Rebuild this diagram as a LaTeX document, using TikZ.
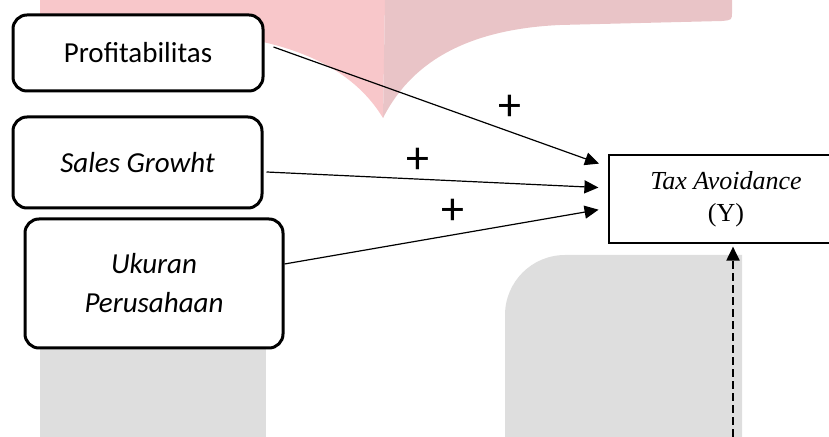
\documentclass[tikz,border=0pt]{standalone}
\usepackage{fontspec}
\setmainfont{Liberation Serif}
\newfontfamily\calibri{Carlito}
\usetikzlibrary{arrows.meta}

\definecolor{pinkkiri}{RGB}{248,199,202}
\definecolor{pinkkanan}{RGB}{233,196,199}
\definecolor{abu}{RGB}{222,222,222}

\tikzset{
  varbox/.style={draw,line width=1.5pt,rounded corners=7pt,fill=white,
    align=center,inner sep=0pt,font=\calibri\fontsize{14.5}{19.5}\selectfont},
  ybox/.style={draw,line width=0.6pt,fill=white,align=center,inner sep=0pt,
    minimum width=117pt,minimum height=44pt,font=\fontsize{13}{16}\selectfont},
  plus/.style={inner sep=0pt,font=\calibri\fontsize{23}{25}\selectfont},
  panah/.style={->,line width=0.6pt,shorten >=5pt}
}

\begin{document}
\begin{tikzpicture}[x=0.5pt,y=-0.5pt,>={Triangle[length=7pt,width=6.5pt]}]
    \useasboundingbox (0,0) rectangle (829,437);
    % watermark behind the model
    \fill[pinkkiri] (40,0) -- (385,0) -- (383,118)
      .. controls (360,80) and (320,55) .. (263,42) -- (40,15) -- cycle;
    \fill[pinkkanan] (385,0) -- (732,0) -- (732,12)
      .. controls (732,20) .. (722,21) -- (560,25)
      .. controls (450,30) and (405,75) .. (383,118) -- cycle;
    \fill[abu] (40,330) rectangle (266,437);
    \fill[abu] (505,437) [rounded corners=30pt] -- (505,255)
      [sharp corners] -- (742,255) -- (742,437) -- cycle;

    \newcommand\variabel[6]{
      \node[varbox,minimum width=#3,minimum height=#4] at (#1,#2) (#5) {#6};
    }
    \variabel{138}{53}{125pt}{38pt}{prof}{Profitabilitas};
    \variabel{137.5}{162.5}{124.5pt}{45.5pt}{sales}{\itshape Sales Growht};
    \variabel{154}{283.5}{129pt}{64.5pt}{ukuran}{\itshape Ukuran\\\itshape Perusahaan};
    \node[ybox] at (726,199) (Y) {\textit{Tax Avoidance}\\(Y)};

    \node[plus] at (510,108) (plusa) {+};
    \node[plus] at (418,161) (plusb) {+};
    \node[plus] at (453,212) (plusc) {+};

    \draw[panah] ([xshift=4.5pt,yshift=3pt]prof.east) -- ([yshift=16pt]Y.west);
    \draw[panah] ([xshift=1.5pt,yshift=-4.75pt]sales.east) -- ([yshift=5.5pt]Y.west);
    \draw[panah] ([yshift=9.75pt]ukuran.east) -- ([yshift=-4.5pt]Y.west);

    \coordinate (bawah) at (733,437);
    \draw[->,line width=1pt,dash pattern=on 4pt off 2pt,shorten >=1.5pt]
      (bawah) -- (Y.south -| bawah);%
  \end{tikzpicture}
\end{document}
